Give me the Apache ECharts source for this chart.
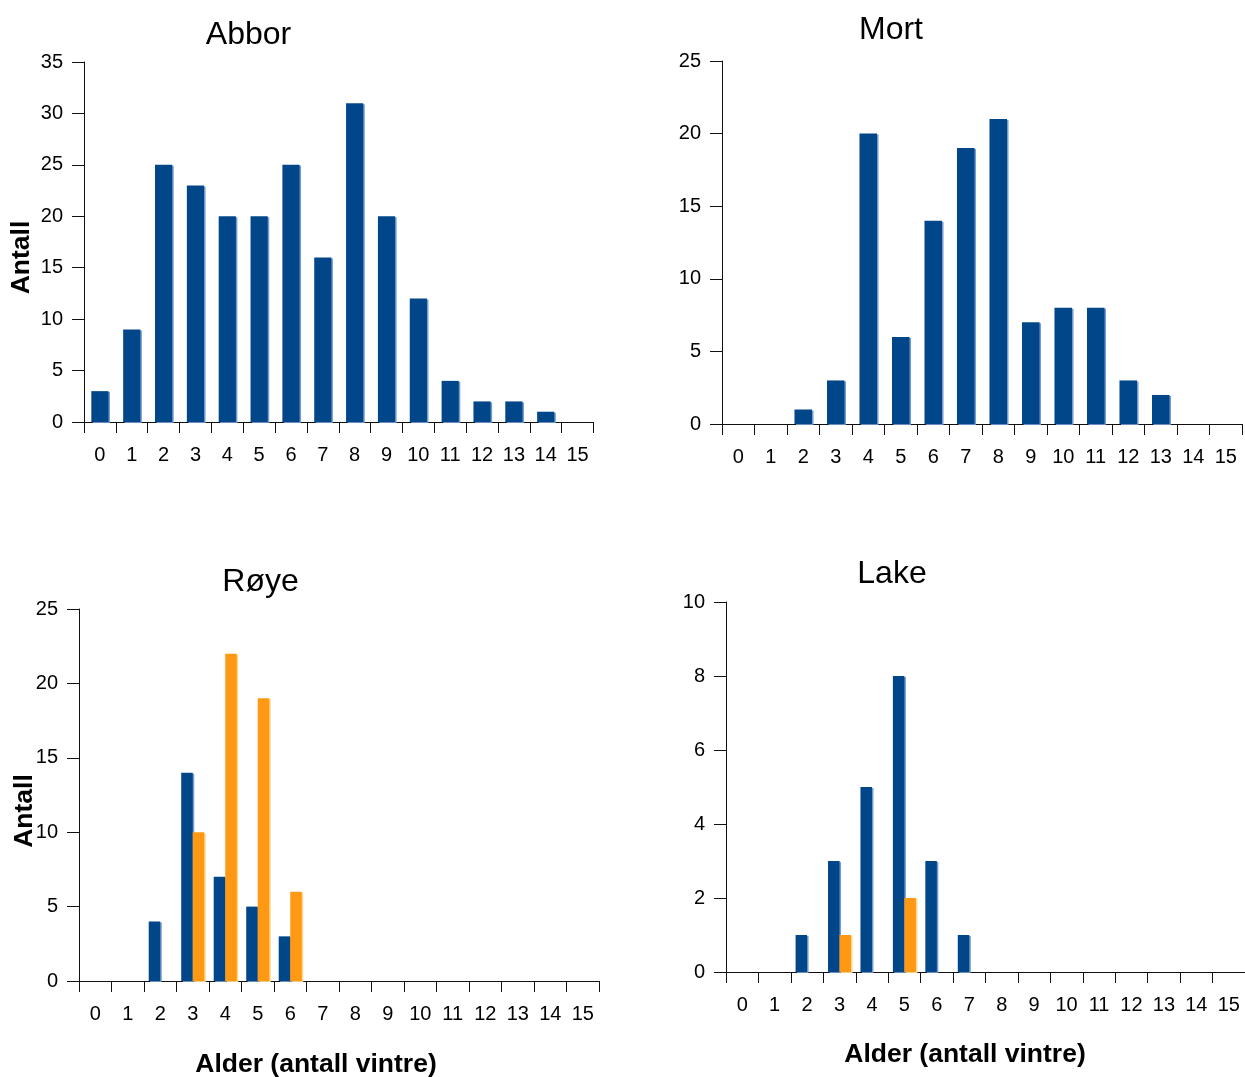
<!DOCTYPE html>
<html>
<head>
<meta charset="utf-8">
<title>Aldersfordeling</title>
<script src="https://cdn.jsdelivr.net/npm/echarts@6/dist/echarts.min.js"></script>
<style>
  html, body { margin: 0; padding: 0; background: #fff; }
  #chart { width: 1245px; height: 1077px; }
</style>
</head>
<body>
<div id="chart"></div>
<script>
// Age classes (number of winters) shared by all four panels
const ages = ['0','1','2','3','4','5','6','7','8','9','10','11','12','13','14','15'];

// Counts per age class
const abbor = [3, 9, 25, 23, 20, 20, 25, 16, 31, 20, 12, 4, 2, 2, 1, 0];
const mort  = [0, 0, 1, 3, 20, 6, 14, 19, 21, 7, 8, 8, 3, 2, 0, 0];
const royeBlue   = [0, 0, 4, 14, 7, 5, 3, 0, 0, 0, 0, 0, 0, 0, 0, 0];
const royeOrange = [0, 0, 0, 10, 22, 19, 6, 0, 0, 0, 0, 0, 0, 0, 0, 0];
const lakeBlue   = [0, 0, 1, 3, 5, 8, 3, 1, 0, 0, 0, 0, 0, 0, 0, 0];
const lakeOrange = [0, 0, 0, 1, 0, 2, 0, 0, 0, 0, 0, 0, 0, 0, 0, 0];

const panelTitles = ['Abbor', 'Mort', 'Røye', 'Lake'];
const yAxisName = 'Antall';
const xAxisName = 'Alder (antall vintre)';

const BLUE = '#02468A';
const ORANGE = '#FF9913';
const FONT = '"Liberation Sans", Arial, sans-serif';

const chart = echarts.init(document.getElementById('chart'), null, { renderer: 'canvas' });

const grids = [
  { left: 84,  top: 62,  width: 509.5, height: 360 },
  { left: 722, top: 61,  width: 520,   height: 363 },
  { left: 79,  top: 609, width: 520,   height: 372 },
  { left: 726, top: 602, width: 521.6, height: 370 }
];
const yMax = [35, 25, 25, 10];
const yStep = [5, 5, 5, 2];

const axisLine = { show: true, lineStyle: { color: '#111', width: 1 } };

const xAxes = grids.map((g, i) => ({
  type: 'category',
  gridIndex: i,
  data: ages,
  boundaryGap: true,
  axisLine: axisLine,
  axisTick: { show: true, length: 11, alignWithLabel: false, lineStyle: { color: '#111' } },
  axisLabel: { color: '#000', fontSize: 20, fontFamily: FONT, margin: 23, interval: 0 },
  splitLine: { show: false }
}));

const yAxes = grids.map((g, i) => ({
  type: 'value',
  gridIndex: i,
  min: 0,
  max: yMax[i],
  interval: yStep[i],
  axisLine: axisLine,
  axisTick: { show: true, length: 12, lineStyle: { color: '#111' } },
  axisLabel: { color: '#000', fontSize: 20, fontFamily: FONT, margin: 21 },
  splitLine: { show: false }
}));

function barStyle(color, edge) {
  return {
    color: color,
    shadowColor: edge,
    shadowBlur: 0,
    shadowOffsetX: 1.5,
    shadowOffsetY: 1
  };
}

const blueStyle = barStyle(BLUE, 'rgba(110,150,205,0.95)');
const orangeStyle = barStyle(ORANGE, 'rgba(255,215,140,0.95)');

const series = [
  { type: 'bar', xAxisIndex: 0, yAxisIndex: 0, data: abbor, barCategoryGap: '46%', itemStyle: blueStyle },
  { type: 'bar', xAxisIndex: 1, yAxisIndex: 1, data: mort,  barCategoryGap: '46%', itemStyle: blueStyle },
  { type: 'bar', xAxisIndex: 2, yAxisIndex: 2, data: royeBlue,   barCategoryGap: '29%', barGap: '0%', itemStyle: blueStyle },
  { type: 'bar', xAxisIndex: 2, yAxisIndex: 2, data: royeOrange, barCategoryGap: '29%', barGap: '0%', itemStyle: orangeStyle },
  { type: 'bar', xAxisIndex: 3, yAxisIndex: 3, data: lakeBlue,   barCategoryGap: '29%', barGap: '0%', itemStyle: blueStyle },
  { type: 'bar', xAxisIndex: 3, yAxisIndex: 3, data: lakeOrange, barCategoryGap: '29%', barGap: '0%', itemStyle: orangeStyle }
].map(s => Object.assign({ silent: true, animation: false }, s));

// Panel titles and axis names
function text(str, x, y, font, rotation) {
  return {
    type: 'text',
    x: x, y: y,
    rotation: rotation || 0,
    silent: true,
    style: { text: str, font: font, fill: '#000', textAlign: 'center', textVerticalAlign: 'middle' }
  };
}
const titleFont = '32px ' + FONT;
const nameFont = 'bold 26.5px ' + FONT;

const graphic = [
  text(panelTitles[0], 248.5, 35, titleFont),
  text(panelTitles[1], 891, 30, titleFont),
  text(panelTitles[2], 260.5, 582.5, titleFont),
  text(panelTitles[3], 892, 574.5, titleFont),
  text(yAxisName, 22, 257.5, nameFont, Math.PI / 2),
  text(yAxisName, 25, 811, nameFont, Math.PI / 2),
  text(xAxisName, 316, 1065, nameFont),
  text(xAxisName, 965, 1055, nameFont)
];

chart.setOption({
  animation: false,
  backgroundColor: '#fff',
  grid: grids,
  xAxis: xAxes,
  yAxis: yAxes,
  series: series,
  graphic: graphic
});
</script>
</body>
</html>
